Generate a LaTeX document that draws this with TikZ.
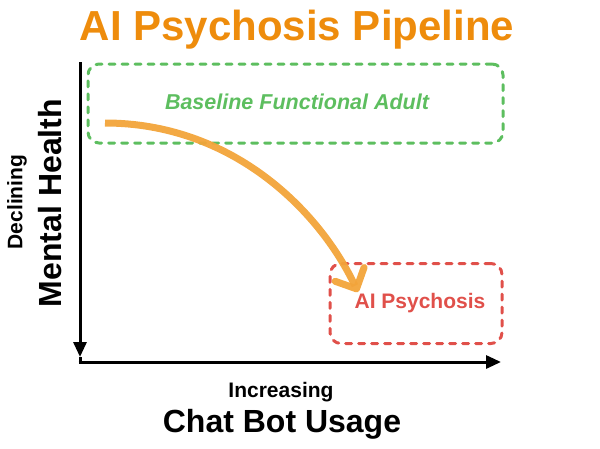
\documentclass[tikz,border=0pt]{standalone}
\usepackage{fontspec}
\setmainfont{Liberation Sans}
\usetikzlibrary{arrows.meta}
\definecolor{titleor}{HTML}{EE8C0C}
\definecolor{arrowor}{HTML}{F2A43A}
\definecolor{boxgreen}{HTML}{5DBE5F}
\definecolor{boxred}{HTML}{E0504A}
\tikzset{
  axis/.style={line width=3pt, -{Triangle[length=15pt,width=13pt]}},
  dbox/.style={line width=3pt, dash pattern=on 6pt off 7pt, line cap=round, rounded corners=11pt},
  lbl/.style={font=\bfseries, inner sep=0pt},
}
\begin{document}
\begin{tikzpicture}[x=1pt,y=-1pt]
\useasboundingbox (0,0) rectangle (600,448);
\node[lbl, text=titleor, font=\fontsize{42}{46}\selectfont\bfseries] (title) at (297,30) {AI Psychosis Pipeline};
% axes
\coordinate (o) at (80,362);
\coordinate (ytop) at (80,62);
\coordinate (ybot) at (80,357);
\coordinate (xend) at (501,362);
\draw[axis] (ytop) -- (ybot);
\draw[line width=3pt] (ybot) -- (80,363.5);
\draw[axis] (78.5,362) -- (xend);
% boxes
\node[dbox, draw=boxgreen, minimum width=415pt, minimum height=79pt, inner sep=0pt] (base) at (295.5,103.5) {};
\node[lbl, text=boxgreen, font=\fontsize{21.5}{24}\selectfont\bfseries\itshape] (baset) at (297,102) {Baseline Functional Adult};
\node[dbox, draw=boxred, minimum width=172pt, minimum height=80pt, inner sep=0pt] (psy) at (416,303.5) {};
\node[lbl, text=boxred, font=\fontsize{21}{24}\selectfont\bfseries] (psyt) at (420,303) {AI Psychosis};
% axis labels
\node[lbl, rotate=90, font=\fontsize{21}{24}\selectfont\bfseries] (decl) at (17,202) {Declining};
\node[lbl, rotate=90, font=\fontsize{32}{36}\selectfont\bfseries] (mh) at (50,203) {Mental Health};
\node[lbl, font=\fontsize{21}{24}\selectfont\bfseries] (inc) at (281,392) {Increasing};
\node[lbl, font=\fontsize{32}{36}\selectfont\bfseries] (cbu) at (282,424) {Chat Bot Usage};
% curved arrow
\coordinate (astart) at (105,123);
\coordinate (aend) at (358,292);
\draw[arrowor, opacity=0.95, line width=7pt, -{Straight Barb[length=16pt,width=32pt,line width=7pt, round]}]
  (astart) .. controls (230,123) and (318,208) .. (aend);
\end{tikzpicture}
\end{document}
